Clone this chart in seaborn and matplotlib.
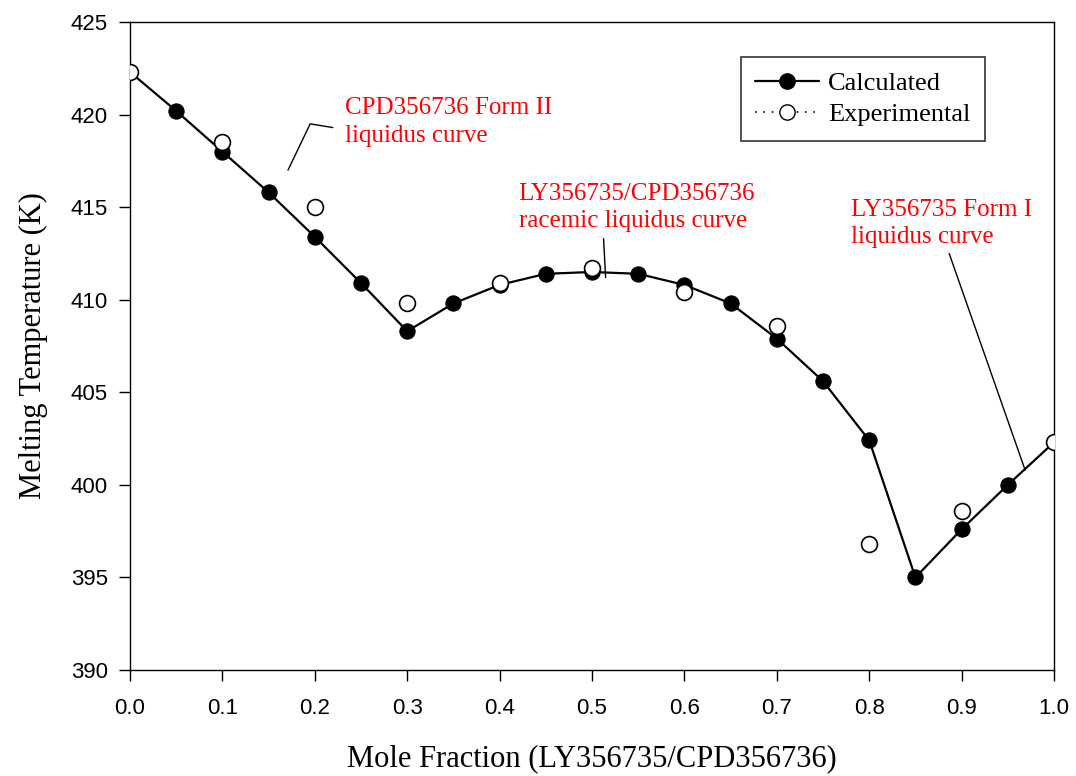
import matplotlib
matplotlib.use("Agg")
import matplotlib.pyplot as plt
import seaborn as sns
import pandas as pd
from matplotlib.lines import Line2D

calc_x = [0.0, 0.05, 0.1, 0.15, 0.2, 0.25, 0.3, 0.35, 0.4, 0.45, 0.5,
          0.55, 0.6, 0.65, 0.7, 0.75, 0.8, 0.85, 0.9, 0.95, 1.0]
calc_t = [422.3, 420.2, 418.0, 415.8, 413.4, 410.9, 408.3, 409.8, 410.8, 411.4, 411.5,
          411.4, 410.8, 409.8, 407.9, 405.6, 402.4, 395.0, 397.6, 400.0, 402.3]
exp_x = [0.0, 0.1, 0.2, 0.3, 0.4, 0.5, 0.6, 0.7, 0.8, 0.9, 1.0]
exp_t = [422.3, 418.5, 415.0, 409.8, 410.9, 411.7, 410.4, 408.6, 396.8, 398.6, 402.3]

x_ticks = [0.0, 0.1, 0.2, 0.3, 0.4, 0.5, 0.6, 0.7, 0.8, 0.9, 1.0]
y_ticks = [390, 395, 400, 405, 410, 415, 420, 425]

calc_df = pd.DataFrame({"x": calc_x, "t": calc_t})
exp_df = pd.DataFrame({"x": exp_x, "t": exp_t})

sns.set_style("ticks")
plt.rcParams["text.color"] = "black"
plt.rcParams["axes.labelcolor"] = "black"
plt.rcParams["xtick.color"] = "black"
plt.rcParams["ytick.color"] = "black"
serif = "Liberation Serif"
sans = "Liberation Sans"

fig = plt.figure(figsize=(10.76, 7.76), dpi=100)
ax = fig.add_axes([0.1208, 0.1366, 0.8588, 0.835])

sns.lineplot(data=calc_df, x="x", y="t", ax=ax, color="black", linewidth=1.6,
             marker="o", markersize=11, markerfacecolor="black",
             markeredgecolor="black", zorder=3, legend=False)
sns.scatterplot(data=exp_df, x="x", y="t", ax=ax, s=130, facecolor="white",
                edgecolor="black", linewidth=1.2, zorder=4, legend=False)

ax.set_xlim(0, 1.0)
ax.set_ylim(390, 425)
ax.set_xticks(x_ticks)
ax.set_xticklabels([f"{v:.1f}" for v in x_ticks], fontfamily=sans, fontsize=16, color="black")
ax.set_yticks(y_ticks)
ax.set_yticklabels([str(v) for v in y_ticks], fontfamily=sans, fontsize=16, color="black")
ax.tick_params(direction="out", length=8, width=1, color="black", pad=8)
ax.tick_params(axis="x", pad=12)
for s in ax.spines.values():
    s.set_visible(True)
    s.set_color("black")
    s.set_linewidth(1)

ax.set_xlabel("Mole Fraction (LY356735/CPD356736)", fontfamily=serif, fontsize=22,
              labelpad=18, color="black")
ax.set_ylabel("Melting Temperature (K)", fontfamily=serif, fontsize=22, labelpad=16,
              color="black")

handles = [
    Line2D([0], [0], color="black", linewidth=1.6, marker="o", markersize=11,
           markerfacecolor="black", markeredgecolor="black"),
    Line2D([0], [0], color="black", linewidth=1.2, linestyle=(0, (1, 4)), marker="o",
           markersize=11, markerfacecolor="white", markeredgecolor="black"),
]
leg = ax.legend(handles, ["Calculated", "Experimental"], loc="upper right",
                bbox_to_anchor=(0.925, 0.946), prop={"family": serif, "size": 19},
                frameon=True, fancybox=False, edgecolor="black", handlelength=2.4,
                borderpad=0.55, labelspacing=0.3, handletextpad=0.35, borderaxespad=0)
leg.get_frame().set_linewidth(1.2)

red = "#ff0000"
# CPD Form II annotation
ax.text(0.2324, 419.6, "CPD356736 Form II\nliquidus curve", color=red, fontfamily=serif,
        fontsize=18, ha="left", va="center", linespacing=1.3)
ax.plot([0.2195, 0.195, 0.171], [419.3, 419.5, 417.0], color="black", linewidth=1)

# racemic annotation
ax.text(0.4205, 415.0, "LY356735/CPD356736\nracemic liquidus curve", color=red, fontfamily=serif,
        fontsize=18, ha="left", va="center", linespacing=1.3)
ax.plot([0.5125, 0.5147], [413.3, 411.2], color="black", linewidth=1)

# Form I annotation
ax.text(0.7805, 414.1, "LY356735 Form I\nliquidus curve", color=red, fontfamily=serif,
        fontsize=18, ha="left", va="center", linespacing=1.3)
ax.plot([0.8865, 0.9687], [412.5, 400.8], color="black", linewidth=1)

fig.savefig("out.png", dpi=100)
